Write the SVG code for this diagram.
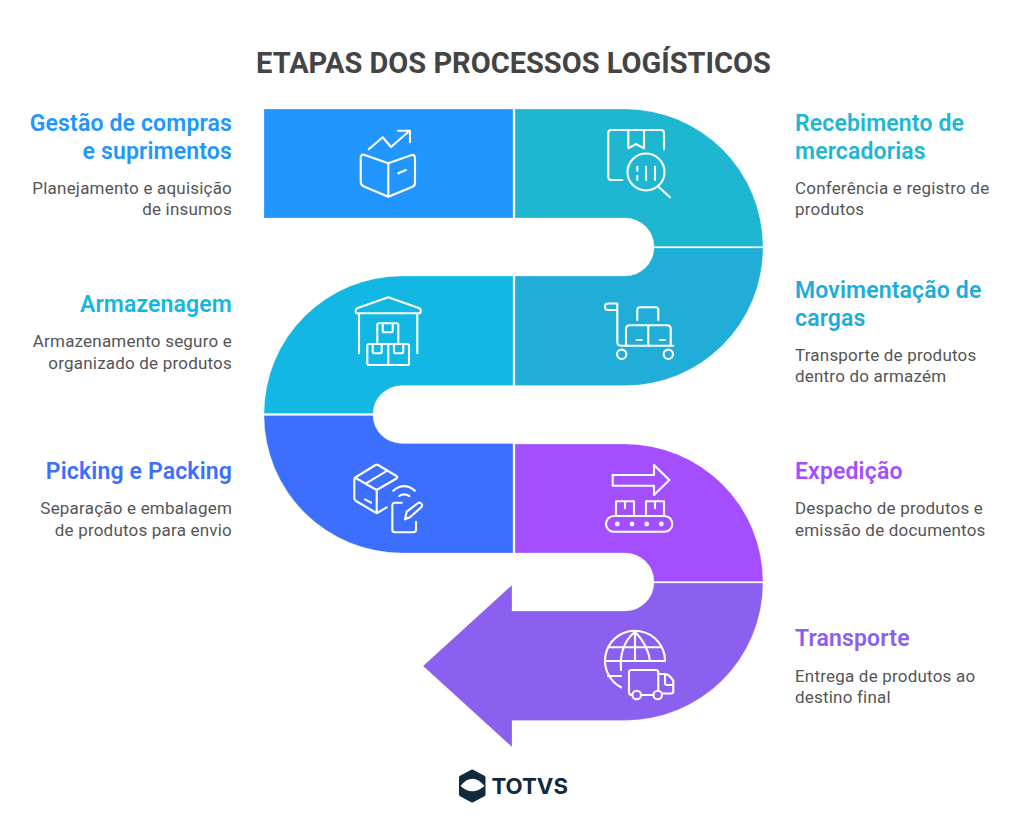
<svg xmlns="http://www.w3.org/2000/svg" width="1024" height="816" viewBox="0 0 1024 816">
<style>
text{font-family:Roboto,"Liberation Sans",sans-serif}
.t{font-size:29px;font-weight:700;fill:#444444;text-anchor:middle;transform:translateY(.6px)}
.h{font-size:23px;font-weight:600;letter-spacing:.15px;transform:translateY(.6px)}
.d{font-size:17px;fill:#555555;letter-spacing:.2px}
.l{text-anchor:end}
.i{fill:none;stroke:#fff;stroke-width:2.1;stroke-linecap:round;stroke-linejoin:round}
.s{stroke:#fff;stroke-opacity:.25;stroke-width:1}
</style>
<rect width="1024" height="816" fill="#fff"/>
<text class="t" x="513.5" y="72">ETAPAS DOS PROCESSOS LOGÍSTICOS</text>
<g id="connectors"></g>

<g id="gestao">
<rect class="s" x="264" y="109" width="249" height="109" fill="#2196FF"/>
<g class="i">
<path d="M368.7 149.3L382.7 137.3L391 147L409.3 131M398 130.7H410V142.3"/>
<path d="M364 154.8L388.3 163.3L411 155.2Q415 154 415 158V183Q415 186 412 187L388.3 196.7L364 186.5Q360.7 185 360.7 182V158Q360.7 154 364 154.8ZM388.3 163.3V196.7M398.3 173.3L406 170"/>
</g>
<text class="h l" x="232" y="130" fill="#2196FF">Gestão de compras</text>
<text class="h l" x="232" y="158" fill="#2196FF">e suprimentos</text>
<text class="d l" x="232" y="194">Planejamento e aquisição</text>
<text class="d l" x="232" y="215">de insumos</text>
</g>

<g id="recebimento">
<path class="s" d="M515 109H625A138 138 0 0 1 763 246.5H654A29 28.5 0 0 0 625 218H515Z" fill="#1FB6D2"/>
<g class="i">
<path d="M622.3 180H611Q608.3 180 608.3 177V133Q608.3 130 611 130H661Q664 130 664 133V149.3M628.3 130V148.3L636 144L644 148.3V130"/>
<circle cx="646" cy="172" r="18.5"/>
<path d="M659 187.3L670 197.3M637.3 166.7V170.7M637.3 176V180M646 166.7V180M655 166.7V180"/>
</g>
<text class="h" x="795" y="130" fill="#1FB6D2">Recebimento de</text>
<text class="h" x="795" y="158" fill="#1FB6D2">mercadorias</text>
<text class="d" x="795" y="194">Conferência e registro de</text>
<text class="d" x="795" y="215">produtos</text>
</g>

<g id="movimentacao">
<path class="s" d="M515 385.6H625A138 138 0 0 0 763 248H654A29 28.5 0 0 1 625 276H515Z" fill="#20ADD8"/>
<g class="i">
<path d="M617.3 303.5H608Q605 303.5 605 306.5V307Q605 310 608 310H617.3M617.3 303.5V341.7Q617.3 345.7 621.3 345.7H673.3"/>
<circle cx="621.7" cy="354.3" r="4.7"/>
<circle cx="668.3" cy="354.3" r="4.7"/>
<path d="M626 345.7V329Q626 325.3 630 325.3H667Q670.7 325.3 670.7 329V345.7M648.3 325.3V345.7M637.3 320V310Q637.3 307.3 640 307.3H655.5Q658.3 307.3 658.3 310V320M636.7 340H641.7M660 340H665"/>
</g>
<text class="h" x="795" y="297" fill="#1FADD8">Movimentação de</text>
<text class="h" x="795" y="325" fill="#1FADD8">cargas</text>
<text class="d" x="795" y="361">Transporte de produtos</text>
<text class="d" x="795" y="382">dentro do armazém</text>
</g>

<g id="armazenagem">
<path class="s" d="M513 276H402A138 138 0 0 0 264 413.5H373A29 28 0 0 1 402 385.6H513Z" fill="#12B8E3"/>
<g class="i">
<path d="M357 308.3L388.3 297.3L419.5 308.3Q420.7 309 420.7 310.5V312Q420.7 313.3 419 313.3H357.5Q355.7 313.3 355.7 312V310.5Q355.7 309 357 308.3ZM359 313.3V353.3M417.3 313.3V353.3"/>
<path d="M377.3 344V325Q377.3 323.3 379 323.3H396.5Q398.3 323.3 398.3 325V344M382.7 323.3V330.5Q382.7 332.3 384.5 332.3H391Q392.7 332.3 392.7 330.5V323.3"/>
<rect x="367.3" y="344" width="41.7" height="21" rx="1.8"/>
<path d="M388.3 344V365M372.7 344V351.5Q372.7 353.3 374.5 353.3H380Q381.7 353.3 381.7 351.5V344M394 344V351.5Q394 353.3 395.8 353.3H401.5Q403.3 353.3 403.3 351.5V344"/>
</g>
<text class="h l" x="232" y="311" fill="#12B8E3">Armazenagem</text>
<text class="d l" x="232" y="347">Armazenamento seguro e</text>
<text class="d l" x="232" y="369">organizado de produtos</text>
</g>

<g id="picking">
<path class="s" d="M264 415.5H373A29 28 0 0 0 402 443.5H513V553H402A138 138 0 0 1 264 415.5Z" fill="#3D6FFF"/>
<g class="i">
<path d="M386.7 507.3L378 512.5Q376.7 513.3 375.5 512.5L356 501Q354.3 500 354.3 498V479.5Q354.3 478 356 477L375.5 465Q376.7 464.3 378 465L396.5 476Q398.3 477.3 396.5 478.5L376.7 490L354.8 477.5M376.7 490V513.3M366 483.3L387.3 470.7M365 499.3L371 502.7"/>
<path d="M393.3 490.7Q404 481.7 415 490.7M399.3 496Q404 492.7 409.3 496"/>
<path d="M401.7 502.7H395Q392.3 502.7 392.3 505.5V529.5Q392.3 532.3 395 532.3H413Q416 532.3 416 529.5V521.7"/>
<path d="M405 519.3L406.7 511.7L418 503Q419.5 502 421 503.5Q423 505 421.5 507L410 517.3Z"/>
</g>
<text class="h l" x="232" y="478" fill="#3D6FFF">Picking e Packing</text>
<text class="d l" x="232" y="514">Separação e embalagem</text>
<text class="d l" x="232" y="536">de produtos para envio</text>
</g>

<g id="expedicao">
<path class="s" d="M515 444H625A138 138 0 0 1 763 581.5H654A29 28.5 0 0 0 625 553H515Z" fill="#A44FFF"/>
<g class="i">
<path d="M612.7 475H654V465L669.3 480L654 495V485.7H612.7Z"/>
<rect x="606" y="516" width="66.3" height="15.7" rx="7.8"/>
<path d="M616 516V501.3H634V516M646 516V501.3H664V516M625 501.3V508.3M655 501.3V508.3"/>
<g fill="#fff" stroke="none">
<circle cx="617.3" cy="524" r="2.4"/><circle cx="632" cy="524" r="2.4"/><circle cx="646.7" cy="524" r="2.4"/><circle cx="661.3" cy="524" r="2.4"/>
</g>
</g>
<text class="h" x="795" y="478" fill="#A44FFF">Expedição</text>
<text class="d" x="795" y="514">Despacho de produtos e</text>
<text class="d" x="795" y="536">emissão de documentos</text>
</g>

<g id="transporte">
<path class="s" d="M763 583A138 138 0 0 1 625 720.5H512V747L423 666L512 585V611H625A29 28.5 0 0 0 654 583Z" fill="#8B60EE"/>
<g class="i">
<path d="M665 661A30 30 0 1 0 621 687.3M635 631.7V661M635 631.7Q619 645 621 670M635 631.7Q648 645 650 661M610 647.3H660M605 661H665M608 676H621"/>
<path d="M631.5 670H656Q658.3 670 658.3 672.5V690.7M629 692.5V672.5Q629 670 631.5 670M629 692.5Q629 695 632 695M641 695H653.4"/>
<circle cx="636.7" cy="695" r="4.3"/>
<circle cx="657.7" cy="695" r="4.3"/>
<path d="M658.3 674H665Q667.5 674 669.5 676L673.3 680.5V691Q673.3 693.5 671 693.5H662M665 674V683Q665 685 667 685H673"/>
</g>
<text class="h" x="795" y="645.4" fill="#8B60EE">Transporte</text>
<text class="d" x="795" y="682">Entrega de produtos ao</text>
<text class="d" x="795" y="703">destino final</text>
</g>

<g id="logo">
<path d="M461 777.5L472.2 771.5L483.5 777.5V794.5L472.2 800.5L461 794.5Z" fill="#0F2A3F" stroke="#0F2A3F" stroke-width="4" stroke-linejoin="round"/>
<path d="M460.5 786Q472.2 771.5 484.5 786Q472.2 796.5 460.5 786Z" fill="#fff"/>
<text x="491.5" y="793.5" font-size="21.5" font-weight="700" fill="#0F2A3F" textLength="76.5" lengthAdjust="spacingAndGlyphs" style="font-family:Inter,Roboto,sans-serif">TOTVS</text>
</g>
</svg>
